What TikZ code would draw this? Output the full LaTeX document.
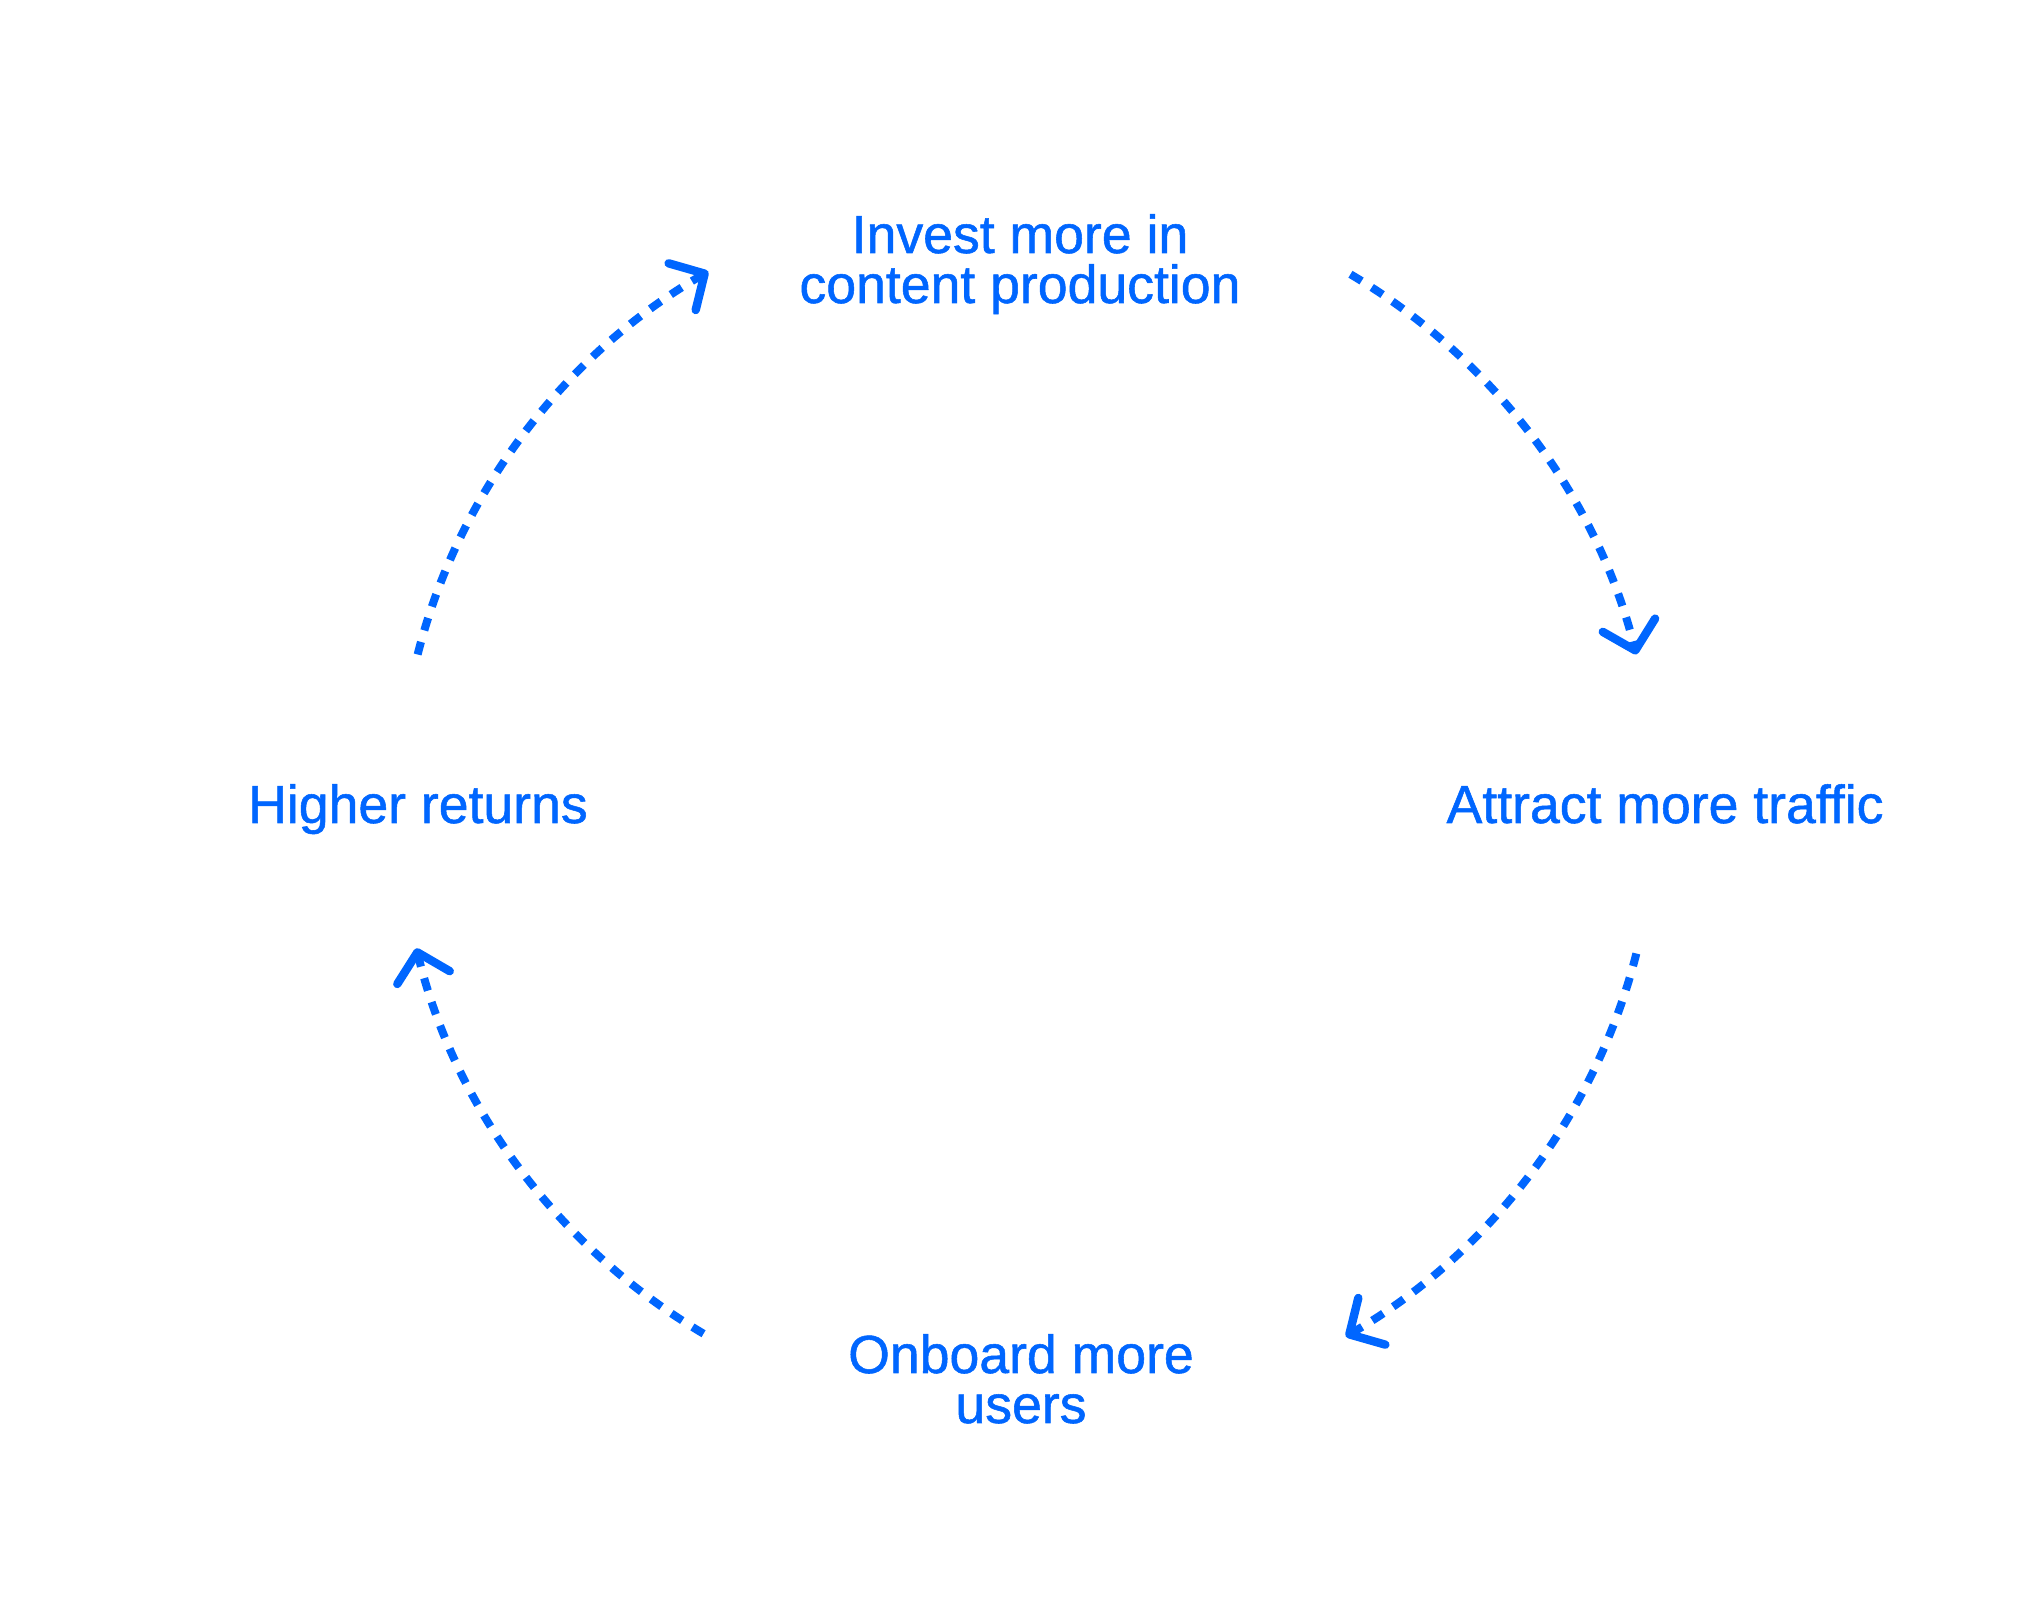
\documentclass[tikz,border=0pt]{standalone}
\usepackage{fontspec}
\setmainfont{Liberation Sans}
\newfontfamily\labelfont{Liberation Sans}[FakeBold=1]
\usetikzlibrary{arrows.meta,calc}
\definecolor{flowblue}{HTML}{0066FF}
\tikzset{
  label text/.style={text=flowblue, inner sep=0pt, align=center, font=\labelfont\fontsize{26.8pt}{25pt}\selectfont, anchor=base},
  flow/.style={draw=flowblue, line width=4pt, dash pattern=on 6.5pt off 6pt,
    -{Straight Barb[length=13pt, width=27pt, line width=4.2pt, round]}}
}
\begin{document}
\begin{tikzpicture}[x=0.5pt,y=0.5pt]
  \useasboundingbox[fill=white] (0,0) rectangle (2042,1608);
  \coordinate (c) at (1027,804);
  \node[label text] (invest) at (1020,1305) {Invest more in\\content production};
  \node[label text] (attract) at (1665,785) {Attract more traffic};
  \node[label text] (onboard) at (1021,185) {Onboard more\\users};
  \node[label text] (higher) at (418,785) {Higher returns};
  \coordinate (s1) at ($(c)+(59:314pt and 309pt)$);
  \coordinate (s2) at ($(c)+(-14:314pt and 309pt)$);
  \coordinate (s3) at ($(c)+(-121:314pt and 309pt)$);
  \coordinate (s4) at ($(c)+(166:314pt and 309pt)$);
  \draw[flow] (s1) arc[start angle=59, end angle=14, x radius=314pt, y radius=309pt];
  \draw[flow] (s2) arc[start angle=-14, end angle=-59.5, x radius=314pt, y radius=309pt];
  \draw[flow] (s3) arc[start angle=-121, end angle=-166.5, x radius=314pt, y radius=309pt];
  \draw[flow] (s4) arc[start angle=166, end angle=120.5, x radius=314pt, y radius=309pt];
\end{tikzpicture}
\end{document}
